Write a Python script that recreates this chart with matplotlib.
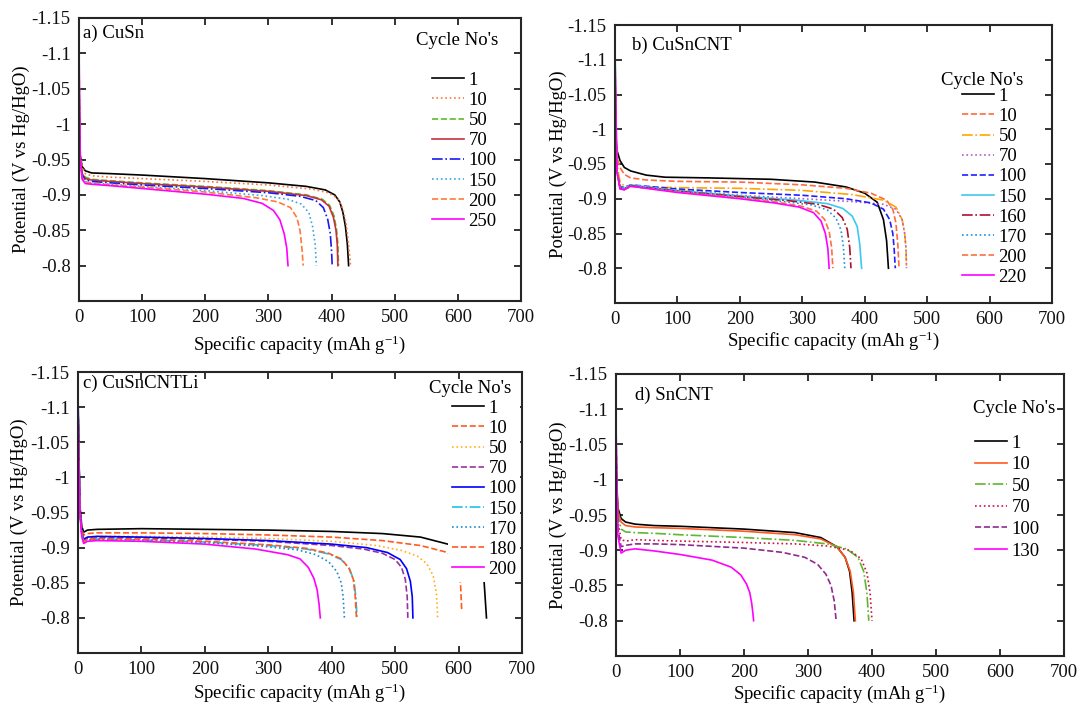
import matplotlib
matplotlib.use("Agg")
import matplotlib.pyplot as plt

plt.rcParams['font.family'] = ['Liberation Serif', 'DejaVu Serif']
plt.rcParams['mathtext.fontset'] = 'custom'
plt.rcParams['mathtext.rm'] = 'Liberation Serif'
plt.rcParams['mathtext.it'] = 'Liberation Serif:italic'

# ---------------- DATA ----------------
xticks = [0, 100, 200, 300, 400, 500, 600, 700]
yticks = [-1.15, -1.1, -1.05, -1.0, -0.95, -0.9, -0.85, -0.8]
ytick_labels = ["-1.15", "-1.1", "-1.05", "-1", "-0.95", "-0.9", "-0.85", "-0.8"]

# a) CuSn
cusn_cycles = ["1", "10", "50", "70", "100", "150", "200", "250"]
cusn_x = [
    [0, 2, 5, 10, 20, 50, 100, 200, 300, 360, 390, 405, 413, 418, 422, 425, 427],
    [0, 2, 5, 10, 20, 50, 100, 200, 300, 370, 395, 410, 418, 423, 427, 430],
    [0, 2, 5, 10, 20, 50, 100, 200, 300, 360, 385, 397, 404, 408, 410, 411],
    [0, 2, 5, 10, 20, 50, 100, 200, 300, 360, 384, 396, 403, 407, 409, 410],
    [0, 2, 5, 10, 20, 50, 100, 200, 300, 350, 375, 387, 394, 398, 400, 401],
    [0, 2, 5, 10, 20, 50, 100, 200, 290, 330, 352, 364, 370, 374, 376],
    [0, 2, 5, 10, 20, 50, 100, 200, 280, 315, 335, 345, 350, 353, 355],
    [0, 2, 5, 10, 20, 50, 100, 200, 260, 290, 308, 318, 325, 329, 331],
]
cusn_v = [
    [-1.00, -0.955, -0.94, -0.934, -0.931, -0.930, -0.928, -0.923, -0.917, -0.912, -0.907, -0.900, -0.890, -0.875, -0.855, -0.830, -0.800],
    [-1.03, -0.960, -0.94, -0.930, -0.927, -0.925, -0.923, -0.919, -0.914, -0.908, -0.903, -0.895, -0.880, -0.860, -0.830, -0.800],
    [-1.05, -0.950, -0.93, -0.925, -0.922, -0.920, -0.917, -0.912, -0.906, -0.900, -0.894, -0.885, -0.870, -0.850, -0.830, -0.800],
    [-1.04, -0.950, -0.93, -0.923, -0.921, -0.919, -0.916, -0.911, -0.905, -0.899, -0.893, -0.884, -0.868, -0.850, -0.830, -0.800],
    [-1.06, -0.950, -0.928, -0.921, -0.919, -0.917, -0.914, -0.909, -0.903, -0.898, -0.892, -0.882, -0.865, -0.845, -0.820, -0.800],
    [-1.08, -0.950, -0.925, -0.919, -0.917, -0.915, -0.912, -0.906, -0.899, -0.894, -0.887, -0.875, -0.855, -0.830, -0.800],
    [-1.09, -0.950, -0.924, -0.918, -0.916, -0.914, -0.911, -0.904, -0.896, -0.890, -0.882, -0.868, -0.850, -0.825, -0.800],
    [-1.11, -0.950, -0.922, -0.916, -0.915, -0.913, -0.909, -0.901, -0.895, -0.888, -0.878, -0.865, -0.845, -0.825, -0.800],
]
cusn_colors = ["#000000", "#F5793F", "#5DBB2A", "#C8303C", "#1A1AF0", "#3AA6DF", "#FF7A3A", "#FF00FF"]
cusn_styles = ["-", ":", "--", "-", "-.", ":", "--", "-"]

# b) CuSnCNT
cusncnt_cycles = ["1", "10", "50", "70", "100", "150", "160", "170", "200", "220"]
cusncnt_x = [
    [0, 3, 8, 15, 25, 50, 80, 150, 250, 320, 370, 400, 420, 430, 435, 438],
    [0, 3, 8, 15, 25, 50, 100, 200, 300, 370, 410, 435, 445, 450, 453, 455],
    [0, 3, 8, 15, 25, 50, 100, 200, 300, 380, 430, 450, 460, 464, 466, 467],
    [0, 3, 8, 15, 25, 50, 100, 200, 300, 380, 430, 450, 460, 464, 466, 467],
    [0, 3, 8, 15, 25, 50, 100, 200, 300, 370, 410, 430, 440, 445, 447, 449],
    [0, 3, 8, 15, 25, 50, 100, 200, 290, 340, 365, 380, 388, 392, 395],
    [0, 3, 8, 15, 25, 50, 100, 200, 280, 325, 350, 364, 372, 376, 378],
    [0, 3, 8, 15, 25, 50, 100, 200, 270, 315, 340, 354, 362, 366, 368],
    [0, 3, 8, 15, 25, 50, 100, 200, 260, 300, 323, 336, 343, 347, 349],
    [0, 3, 8, 15, 25, 50, 100, 200, 255, 295, 318, 330, 337, 341, 343],
]
cusncnt_v = [
    [-1.00, -0.970, -0.955, -0.945, -0.940, -0.934, -0.931, -0.930, -0.928, -0.924, -0.917, -0.908, -0.895, -0.870, -0.840, -0.800],
    [-1.02, -0.960, -0.945, -0.935, -0.930, -0.927, -0.925, -0.924, -0.920, -0.915, -0.908, -0.898, -0.885, -0.865, -0.835, -0.800],
    [-1.04, -0.950, -0.925, -0.918, -0.918, -0.917, -0.916, -0.915, -0.912, -0.906, -0.898, -0.888, -0.870, -0.850, -0.830, -0.800],
    [-1.05, -0.940, -0.915, -0.913, -0.918, -0.917, -0.913, -0.905, -0.900, -0.896, -0.892, -0.885, -0.870, -0.850, -0.830, -0.800],
    [-1.06, -0.940, -0.918, -0.916, -0.920, -0.918, -0.914, -0.909, -0.905, -0.900, -0.894, -0.885, -0.870, -0.850, -0.830, -0.800],
    [-1.12, -0.940, -0.917, -0.915, -0.920, -0.917, -0.912, -0.904, -0.898, -0.893, -0.886, -0.875, -0.860, -0.835, -0.800],
    [-1.08, -0.940, -0.916, -0.914, -0.919, -0.916, -0.911, -0.903, -0.897, -0.892, -0.885, -0.873, -0.856, -0.830, -0.800],
    [-1.09, -0.940, -0.916, -0.914, -0.919, -0.916, -0.911, -0.902, -0.896, -0.891, -0.884, -0.872, -0.855, -0.830, -0.800],
    [-1.10, -0.940, -0.915, -0.913, -0.918, -0.915, -0.910, -0.901, -0.895, -0.889, -0.882, -0.870, -0.853, -0.830, -0.800],
    [-1.11, -0.940, -0.914, -0.913, -0.918, -0.915, -0.909, -0.900, -0.894, -0.888, -0.880, -0.868, -0.850, -0.828, -0.800],
]
cusncnt_colors = ["#000000", "#FF6A3D", "#FFA500", "#B45AC8", "#2020FF", "#3CC8F0", "#B0102A", "#1E90E0", "#FF7040", "#FF00FF"]
cusncnt_styles = ["-", "--", "-.", ":", "--", "-", "-.", ":", "--", "-"]

# c) CuSnCNTLi
cusncntli_cycles = ["1", "10", "50", "70", "100", "150", "170", "180", "200"]
cusncntli_x = [
    [0, 3, 6, 9, 15, 30, 100, 200, 300, 400, 480, 540, 583, 610, 630, 640, 644],
    [0, 3, 6, 9, 15, 30, 100, 200, 300, 400, 480, 540, 583, 597, 603, 605],
    [0, 3, 6, 9, 15, 30, 100, 200, 300, 400, 470, 510, 535, 550, 560, 565, 567],
    [0, 3, 6, 9, 15, 30, 100, 200, 300, 400, 450, 480, 500, 510, 516, 519, 520],
    [0, 3, 6, 9, 15, 30, 100, 200, 300, 400, 455, 488, 508, 518, 524, 527, 528],
    [0, 3, 6, 9, 15, 30, 100, 200, 300, 360, 395, 415, 428, 435, 438, 440],
    [0, 3, 6, 9, 15, 30, 100, 200, 290, 345, 375, 395, 408, 415, 418, 420],
    [0, 3, 6, 9, 15, 30, 100, 200, 300, 360, 395, 415, 427, 434, 437, 439],
    [0, 3, 6, 9, 15, 30, 100, 200, 280, 330, 350, 363, 372, 377, 380, 382],
]
cusncntli_v = [
    [-1.10, -0.960, -0.930, -0.922, -0.925, -0.926, -0.927, -0.926, -0.925, -0.923, -0.920, -0.915, -0.905, -0.895, -0.880, -0.855, -0.800],
    [-1.10, -0.950, -0.925, -0.918, -0.920, -0.921, -0.921, -0.920, -0.918, -0.915, -0.910, -0.903, -0.893, -0.875, -0.850, -0.810],
    [-1.10, -0.950, -0.920, -0.912, -0.915, -0.916, -0.916, -0.915, -0.913, -0.909, -0.903, -0.896, -0.888, -0.877, -0.860, -0.835, -0.800],
    [-1.10, -0.950, -0.920, -0.910, -0.913, -0.914, -0.914, -0.912, -0.909, -0.903, -0.898, -0.892, -0.883, -0.872, -0.855, -0.830, -0.800],
    [-1.12, -0.950, -0.922, -0.912, -0.915, -0.916, -0.915, -0.913, -0.910, -0.905, -0.900, -0.893, -0.883, -0.870, -0.852, -0.830, -0.800],
    [-1.10, -0.950, -0.920, -0.908, -0.911, -0.912, -0.911, -0.908, -0.903, -0.898, -0.891, -0.883, -0.870, -0.853, -0.830, -0.800],
    [-1.10, -0.950, -0.920, -0.908, -0.911, -0.912, -0.911, -0.907, -0.902, -0.897, -0.890, -0.880, -0.866, -0.850, -0.830, -0.800],
    [-1.10, -0.950, -0.920, -0.909, -0.912, -0.913, -0.912, -0.909, -0.904, -0.899, -0.892, -0.884, -0.871, -0.855, -0.832, -0.800],
    [-1.10, -0.950, -0.915, -0.906, -0.909, -0.910, -0.909, -0.905, -0.898, -0.890, -0.884, -0.872, -0.856, -0.840, -0.820, -0.800],
]
cusncntli_colors = ["#000000", "#FF5A1F", "#FFB020", "#9932A0", "#0000FF", "#20C0E8", "#1E88D0", "#FF5A1F", "#FF00FF"]
cusncntli_styles = ["-", "--", ":", "--", "-", "-.", ":", "--", "-"]

# d) SnCNT
sncnt_cycles = ["1", "10", "50", "70", "100", "130"]
sncnt_x = [
    [0, 3, 8, 15, 30, 60, 100, 200, 280, 320, 345, 358, 365, 369, 372],
    [0, 3, 8, 15, 30, 60, 100, 200, 280, 320, 345, 358, 366, 371, 374],
    [0, 3, 8, 15, 30, 60, 100, 200, 280, 330, 360, 378, 387, 392, 395],
    [0, 3, 8, 15, 30, 60, 100, 200, 280, 330, 365, 383, 392, 397, 400],
    [0, 3, 8, 15, 30, 60, 100, 200, 260, 295, 315, 328, 336, 341, 344],
    [0, 3, 8, 15, 30, 60, 100, 150, 180, 195, 204, 209, 212, 214, 215],
]
sncnt_v = [
    [-1.00, -0.960, -0.945, -0.940, -0.937, -0.935, -0.934, -0.930, -0.925, -0.918, -0.905, -0.890, -0.870, -0.840, -0.800],
    [-1.02, -0.955, -0.940, -0.935, -0.933, -0.932, -0.931, -0.927, -0.922, -0.916, -0.905, -0.890, -0.870, -0.840, -0.800],
    [-1.03, -0.950, -0.930, -0.926, -0.925, -0.924, -0.922, -0.918, -0.914, -0.909, -0.902, -0.890, -0.870, -0.840, -0.800],
    [-1.05, -0.940, -0.915, -0.913, -0.915, -0.914, -0.913, -0.911, -0.909, -0.906, -0.900, -0.888, -0.868, -0.840, -0.800],
    [-1.06, -0.930, -0.905, -0.907, -0.909, -0.909, -0.908, -0.903, -0.897, -0.890, -0.880, -0.866, -0.850, -0.828, -0.800],
    [-1.08, -0.920, -0.896, -0.900, -0.902, -0.899, -0.894, -0.886, -0.876, -0.865, -0.852, -0.840, -0.825, -0.810, -0.800],
]
sncnt_colors = ["#000000", "#FF5A1F", "#5CB82E", "#D01040", "#8E2A90", "#FF00FF"]
sncnt_styles = ["-", "-", "-.", ":", "--", "-"]

panel_titles = ["a) CuSn", "b) CuSnCNT", "c) CuSnCNTLi", "d) SnCNT"]
legend_title = "Cycle No's"
xlabel = "Specific capacity (mAh g$^{-1}$)"
ylabel = "Potential (V vs Hg/HgO)"

# ---------------- LAYOUT (pixels) ----------------
W, H = 1081, 704
axes_px = [(79, 18, 521, 301), (615, 25, 1052, 303), (78, 372, 522, 653), (616, 374, 1064, 656)]
title_pos = [(0.009, 0.947), (0.039, 0.928), (0.011, 0.961), (0.042, 0.926)]
ltitle_pos = [(0.855, 0.922), (0.841, 0.802), (0.883, 0.943), (0.889, 0.879)]
legend_px = [(432, 79, 0.16), (962, 95, 0.16), (452, 407, 0.16), (975, 442, 0.235)]
ylabel_x = [-0.111, -0.110, -0.113, -0.109]
xlabel_y = [-0.113, -0.097, -0.103, -0.095]

panels = [
    (cusn_cycles, cusn_x, cusn_v, cusn_colors, cusn_styles),
    (cusncnt_cycles, cusncnt_x, cusncnt_v, cusncnt_colors, cusncnt_styles),
    (cusncntli_cycles, cusncntli_x, cusncntli_v, cusncntli_colors, cusncntli_styles),
    (sncnt_cycles, sncnt_x, sncnt_v, sncnt_colors, sncnt_styles),
]

fig = plt.figure(figsize=(W / 100, H / 100), dpi=100)
fig.patch.set_facecolor("white")
FS = 13.5
spine_col = "#262626"

for i, (cyc, xs, vs, cols, sts) in enumerate(panels):
    l, t, r, b = axes_px[i]
    ax = fig.add_axes([l / W, 1 - b / H, (r - l) / W, (b - t) / H])
    for lab, x, v, c, s in zip(cyc, xs, vs, cols, sts):
        ax.plot(x, v, color=c, linestyle=s, lw=1.2, label=lab)
    ax.set_xlim(0, 700)
    ax.set_ylim(-0.75, -1.15)
    ax.set_xticks(xticks)
    ax.set_yticks(yticks, labels=ytick_labels)
    ax.tick_params(direction="in", length=5, width=1.2, top=True, right=True,
                   labelsize=FS, colors="#111111", pad=6)
    for sp in ax.spines.values():
        sp.set_linewidth(1.5)
        sp.set_color(spine_col)
    ax.set_xlabel(xlabel, fontsize=FS)
    ax.set_ylabel(ylabel, fontsize=FS)
    ax.xaxis.set_label_coords(0.5, xlabel_y[i])
    ax.yaxis.set_label_coords(ylabel_x[i], 0.5)
    ax.text(title_pos[i][0], title_pos[i][1], panel_titles[i], transform=ax.transAxes,
            fontsize=FS, ha="left", va="center")
    ax.text(ltitle_pos[i][0], ltitle_pos[i][1], legend_title, transform=ax.transAxes,
            fontsize=FS, ha="center", va="center", zorder=10)
    hx, hy, ls = legend_px[i]
    fspx = FS * 100 / 72
    bp = 0.2
    box_left = hx - bp * fspx
    box_top = hy - 0.6 * fspx - bp * fspx + 4
    ax.legend(loc="upper left", bbox_to_anchor=(box_left / W, 1 - box_top / H),
              bbox_transform=fig.transFigure, fontsize=FS, frameon=True,
              framealpha=1, facecolor="white", edgecolor="none", fancybox=False,
              handlelength=1.7, handletextpad=0.25, labelspacing=ls,
              borderpad=bp, borderaxespad=0)

fig.savefig("out.png", dpi=100, facecolor="white")
